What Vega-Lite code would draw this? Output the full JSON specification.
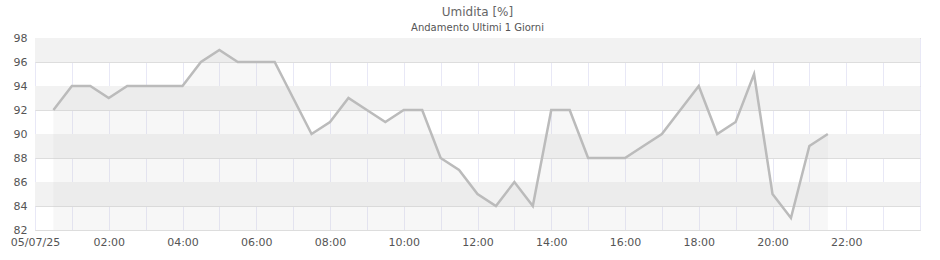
{
  "$schema": "https://vega.github.io/schema/vega-lite/v6.json",
  "autosize": "none",
  "width": 885,
  "height": 192,
  "padding": {"left": 35, "top": 38, "right": 20, "bottom": 30},
  "background": "white",
  "title": {
    "text": "Umidita [%]",
    "subtitle": "Andamento Ultimi 1 Giorni",
    "font": "DejaVu Sans",
    "fontSize": 12,
    "fontWeight": "normal",
    "color": "#666666",
    "subtitleFont": "DejaVu Sans",
    "subtitleFontSize": 10,
    "subtitleColor": "#555555",
    "subtitlePadding": 4,
    "offset": -2,
    "anchor": "middle"
  },
  "config": {
    "view": {"stroke": "#d8d8d8", "strokeWidth": 1},
    "axis": {"labelFont": "DejaVu Sans", "labelFontSize": 11, "labelColor": "#555555", "ticks": false, "domain": false}
  },
  "datasets": {
    "bands": [
      {"lo": 96, "hi": 98},
      {"lo": 92, "hi": 94},
      {"lo": 88, "hi": 90},
      {"lo": 84, "hi": 86}
    ]
  },
  "data": {"values": [
      {"t": "2025-07-05T00:30:00Z", "v": 92},
      {"t": "2025-07-05T01:00:00Z", "v": 94},
      {"t": "2025-07-05T01:30:00Z", "v": 94},
      {"t": "2025-07-05T02:00:00Z", "v": 93},
      {"t": "2025-07-05T02:30:00Z", "v": 94},
      {"t": "2025-07-05T03:00:00Z", "v": 94},
      {"t": "2025-07-05T03:30:00Z", "v": 94},
      {"t": "2025-07-05T04:00:00Z", "v": 94},
      {"t": "2025-07-05T04:30:00Z", "v": 96},
      {"t": "2025-07-05T05:00:00Z", "v": 97},
      {"t": "2025-07-05T05:30:00Z", "v": 96},
      {"t": "2025-07-05T06:00:00Z", "v": 96},
      {"t": "2025-07-05T06:30:00Z", "v": 96},
      {"t": "2025-07-05T07:00:00Z", "v": 93},
      {"t": "2025-07-05T07:30:00Z", "v": 90},
      {"t": "2025-07-05T08:00:00Z", "v": 91},
      {"t": "2025-07-05T08:30:00Z", "v": 93},
      {"t": "2025-07-05T09:00:00Z", "v": 92},
      {"t": "2025-07-05T09:30:00Z", "v": 91},
      {"t": "2025-07-05T10:00:00Z", "v": 92},
      {"t": "2025-07-05T10:30:00Z", "v": 92},
      {"t": "2025-07-05T11:00:00Z", "v": 88},
      {"t": "2025-07-05T11:30:00Z", "v": 87},
      {"t": "2025-07-05T12:00:00Z", "v": 85},
      {"t": "2025-07-05T12:30:00Z", "v": 84},
      {"t": "2025-07-05T13:00:00Z", "v": 86},
      {"t": "2025-07-05T13:30:00Z", "v": 84},
      {"t": "2025-07-05T14:00:00Z", "v": 92},
      {"t": "2025-07-05T14:30:00Z", "v": 92},
      {"t": "2025-07-05T15:00:00Z", "v": 88},
      {"t": "2025-07-05T15:30:00Z", "v": 88},
      {"t": "2025-07-05T16:00:00Z", "v": 88},
      {"t": "2025-07-05T16:30:00Z", "v": 89},
      {"t": "2025-07-05T17:00:00Z", "v": 90},
      {"t": "2025-07-05T17:30:00Z", "v": 92},
      {"t": "2025-07-05T18:00:00Z", "v": 94},
      {"t": "2025-07-05T18:30:00Z", "v": 90},
      {"t": "2025-07-05T19:00:00Z", "v": 91},
      {"t": "2025-07-05T19:30:00Z", "v": 95},
      {"t": "2025-07-05T20:00:00Z", "v": 85},
      {"t": "2025-07-05T20:30:00Z", "v": 83},
      {"t": "2025-07-05T21:00:00Z", "v": 89},
      {"t": "2025-07-05T21:30:00Z", "v": 90}
  ]},
  "encoding": {
    "x": {
      "field": "t",
      "type": "temporal",
      "title": null,
      "scale": {"type": "utc", "domain": [1751673600000, 1751760000000]},
      "axis": {
        "tickCount": 24,
        "grid": true,
        "gridColor": "#e8e8f6",
        "labelPadding": 6,
        "labelFlush": false,
        "labelOverlap": false,
        "labelExpr": "utcdate(datum.value) == 6 || utchours(datum.value) % 2 == 1 ? '' : (utchours(datum.value) == 0 ? utcFormat(datum.value, '%d/%m/%y') : utcFormat(datum.value, '%H:%M'))"
      }
    },
    "y": {
      "field": "v",
      "type": "quantitative",
      "title": null,
      "scale": {"domain": [82, 98], "nice": false, "zero": false},
      "axis": {"values": [82, 84, 86, 88, 90, 92, 94, 96, 98], "grid": true, "gridColor": "#dddddd", "labelPadding": 8, "labelOverlap": false}
    }
  },
  "layer": [
    {
      "data": {"name": "bands"},
      "mark": {"type": "rect", "fill": "#f2f2f2"},
      "encoding": {
        "x": null,
        "y": {"field": "lo", "type": "quantitative"},
        "y2": {"field": "hi"}
      }
    },
    {
      "mark": {"type": "area", "fill": "#cccccc", "fillOpacity": 0.16},
      "encoding": {
        "y2": {"datum": 82}
      }
    },
    {
      "mark": {"type": "line", "color": "#bbbbbb", "strokeWidth": 2.5},
      "encoding": {}
    }
  ]
}
